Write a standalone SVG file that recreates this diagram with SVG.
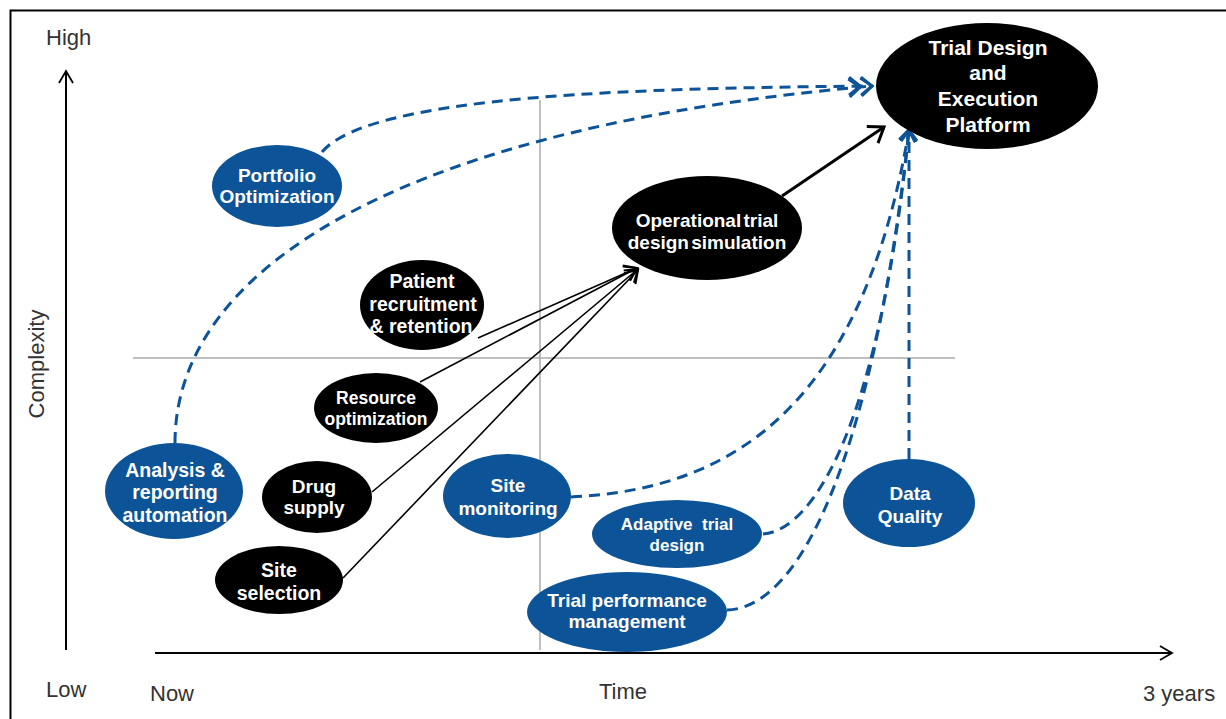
<svg xmlns="http://www.w3.org/2000/svg" width="1226" height="719" viewBox="0 0 1226 719">
<style>
.blue{fill:#0D5397}
.black{fill:#000}
.nt{font-family:"Liberation Sans",Arial,sans-serif;font-weight:bold;fill:#fff;text-anchor:middle}
.ax{font-family:"Liberation Sans",Arial,sans-serif;fill:#333;font-size:22px}
.dash{fill:none;stroke:#0D5397;stroke-width:3;stroke-dasharray:11 7}
.solid{fill:none;stroke:#000;stroke-width:1.6}
.grid{stroke:#aaa;stroke-width:1.5}
</style>
<defs>
<marker id="dbl" markerUnits="userSpaceOnUse" markerWidth="30" markerHeight="30" viewBox="-16 -12 30 24" refX="4" refY="0" orient="auto" overflow="visible">
<path d="M-8,-9 L3,0 L-8,9 M-20,-9 L-9,0 L-20,9" fill="none" stroke="#0D5397" stroke-width="3"/>
</marker>
<marker id="blueA" markerUnits="userSpaceOnUse" markerWidth="30" markerHeight="30" viewBox="-16 -12 30 24" refX="2" refY="0" orient="auto" overflow="visible">
<path d="M-9,-8 L2,0 L-9,8" fill="none" stroke="#0D5397" stroke-width="3"/>
</marker>
<marker id="blkA" markerUnits="userSpaceOnUse" markerWidth="30" markerHeight="30" viewBox="-16 -12 30 24" refX="1" refY="0" orient="auto" overflow="visible">
<path d="M-11,-8 L1,0 L-11,8" fill="none" stroke="#000" stroke-width="2"/>
</marker>
<marker id="blkB" markerUnits="userSpaceOnUse" markerWidth="30" markerHeight="30" viewBox="-16 -12 30 24" refX="1" refY="0" orient="auto" overflow="visible">
<path d="M-13,-10 L1,0 L-13,10" fill="none" stroke="#000" stroke-width="3"/>
</marker>
<marker id="axA" markerUnits="userSpaceOnUse" markerWidth="30" markerHeight="30" viewBox="-16 -12 30 24" refX="1" refY="0" orient="auto" overflow="visible">
<path d="M-11,-7 L1,0 L-11,7" fill="none" stroke="#000" stroke-width="1.8"/>
</marker>
</defs>
<rect width="1226" height="719" fill="#fff"/>
<path d="M10.5,719 V10.5 H1226" fill="none" stroke="#000" stroke-width="2"/>

<g id="axes">
<line x1="540" y1="100" x2="540" y2="650" class="grid"/>
<line x1="133" y1="358" x2="955" y2="358" class="grid"/>
<line x1="66" y1="650" x2="66" y2="71" stroke="#000" stroke-width="2" marker-end="url(#axA)"/>
<line x1="155" y1="653" x2="1172" y2="653" stroke="#000" stroke-width="2" marker-end="url(#axA)"/>
<text class="ax" x="46" y="45">High</text>
<text class="ax" x="46" y="697">Low</text>
<text class="ax" x="150" y="701">Now</text>
<text class="ax" x="599" y="699">Time</text>
<text class="ax" x="1143" y="701">3 years</text>
<text class="ax" transform="translate(44,364) rotate(-90)" text-anchor="middle" font-size="23">Complexity</text>
</g>

<g id="connectors">
<path class="dash" d="M322,152 C370,94 650,88 873,86" marker-end="url(#dbl)"/>
<path class="dash" d="M175,443 C175,260 420,125 873,86" marker-end="url(#dbl)"/>
<path class="dash" d="M571,497 C720,490 860,420 909,130" marker-end="url(#blueA)"/>
<path class="dash" d="M763,534 C815,530 880,420 909,130" marker-end="url(#blueA)"/>
<path class="dash" d="M727,610 C805,608 875,440 909,130" marker-end="url(#blueA)"/>
<path class="dash" d="M909,459 L909,130" marker-end="url(#blueA)"/>
<line class="solid" x1="478" y1="338" x2="637" y2="268" marker-end="url(#blkA)"/>
<line class="solid" x1="420" y1="382" x2="637" y2="268" marker-end="url(#blkA)"/>
<line class="solid" x1="372" y1="492" x2="638" y2="269" marker-end="url(#blkA)"/>
<line class="solid" x1="343" y1="578" x2="638" y2="270" marker-end="url(#blkA)"/>
<line x1="782" y1="196" x2="884" y2="127" stroke="#000" stroke-width="3" marker-end="url(#blkB)"/>
</g>

<g id="platform">
<ellipse class="black" cx="987" cy="86" rx="111" ry="63"/>
<text class="nt" font-size="21"><tspan x="988" y="55">Trial Design</tspan><tspan x="988" y="80">and</tspan><tspan x="988" y="106">Execution</tspan><tspan x="988" y="132">Platform</tspan></text>
</g>
<g id="portfolio">
<ellipse class="blue" cx="277" cy="186" rx="65" ry="41"/>
<text class="nt" font-size="19"><tspan x="277" y="182">Portfolio</tspan><tspan x="277" y="203">Optimization</tspan></text>
</g>
<g id="operational">
<ellipse class="black" cx="707" cy="228" rx="95" ry="52"/>
<text class="nt" font-size="19" word-spacing="-3"><tspan x="707" y="227">Operational trial</tspan><tspan x="707" y="249">design simulation</tspan></text>
</g>
<g id="patient">
<ellipse class="black" cx="422" cy="305" rx="62" ry="45"/>
<text class="nt" font-size="19.5"><tspan x="422" y="288">Patient</tspan><tspan x="423" y="311">recruitment</tspan><tspan x="421" y="333">&amp; retention</tspan></text>
</g>
<g id="resource">
<ellipse class="black" cx="376" cy="408" rx="62" ry="35"/>
<text class="nt" font-size="17.5"><tspan x="376" y="404">Resource</tspan><tspan x="376" y="425">optimization</tspan></text>
</g>
<g id="analysis">
<ellipse class="blue" cx="174" cy="491" rx="69" ry="48"/>
<text class="nt" font-size="19.5"><tspan x="175" y="477">Analysis &amp;</tspan><tspan x="175" y="499">reporting</tspan><tspan x="175" y="522">automation</tspan></text>
</g>
<g id="drug">
<ellipse class="black" cx="317" cy="497" rx="55" ry="36"/>
<text class="nt" font-size="19"><tspan x="314" y="493">Drug</tspan><tspan x="314" y="514">supply</tspan></text>
</g>
<g id="siteselection">
<ellipse class="black" cx="279" cy="580" rx="64" ry="34"/>
<text class="nt" font-size="19.5"><tspan x="279" y="577">Site</tspan><tspan x="279" y="600">selection</tspan></text>
</g>
<g id="sitemonitoring">
<ellipse class="blue" cx="507" cy="496" rx="64" ry="42"/>
<text class="nt" font-size="19"><tspan x="508" y="492">Site</tspan><tspan x="508" y="515">monitoring</tspan></text>
</g>
<g id="adaptive">
<ellipse class="blue" cx="677" cy="534" rx="85" ry="34"/>
<text class="nt" font-size="17"><tspan x="677" y="530">Adaptive&#160; trial</tspan><tspan x="677" y="551">design</tspan></text>
</g>
<g id="trialperformance">
<ellipse class="blue" cx="627" cy="612" rx="100" ry="40"/>
<text class="nt" font-size="19"><tspan x="627" y="607">Trial performance</tspan><tspan x="627" y="628">management</tspan></text>
</g>
<g id="dataquality">
<ellipse class="blue" cx="909" cy="503" rx="66" ry="44"/>
<text class="nt" font-size="19"><tspan x="910" y="500">Data</tspan><tspan x="910" y="523">Quality</tspan></text>
</g>
</svg>
